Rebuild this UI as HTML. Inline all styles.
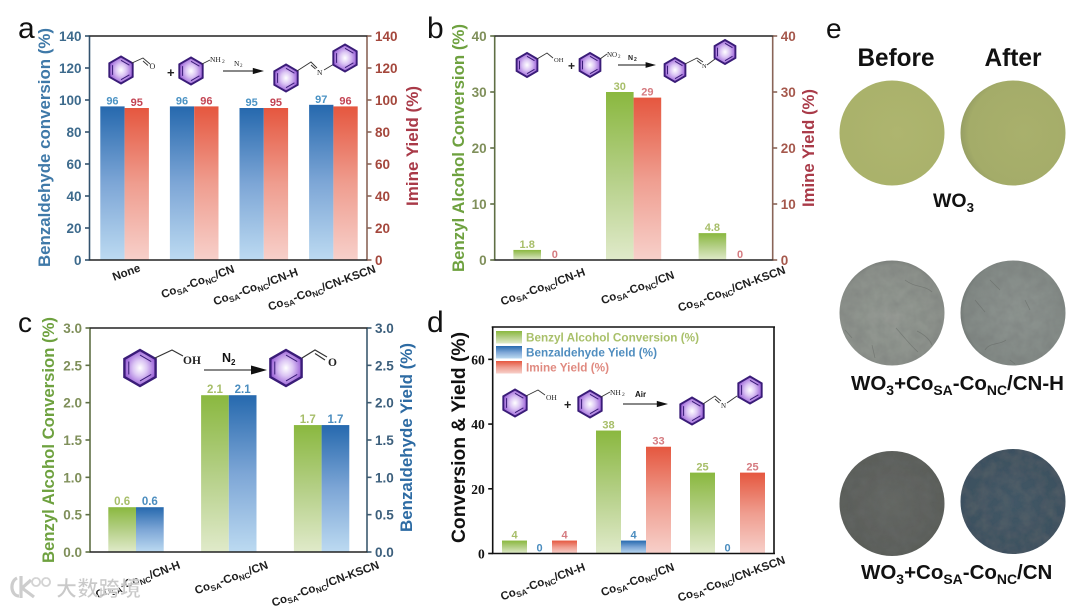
<!DOCTYPE html>
<html lang="en">
<head>
<meta charset="utf-8">
<title>Catalytic performance panels</title>
<style>
html,body{margin:0;padding:0;background:#fff;width:1080px;height:607px;overflow:hidden}
svg{display:block;filter:blur(.35px)}
text{font-family:"Liberation Sans","Noto Sans CJK SC",sans-serif}
</style>
</head>
<body>
<svg id="figure" width="1080" height="607" viewBox="0 0 1080 607" xmlns="http://www.w3.org/2000/svg">
<defs>
<linearGradient id="gBlue" x1="0" y1="0" x2="0" y2="1"><stop offset="0" stop-color="#2669ae"/><stop offset=".5" stop-color="#7da6d6"/><stop offset="1" stop-color="#bcdaf1"/></linearGradient>
<linearGradient id="gRed" x1="0" y1="0" x2="0" y2="1"><stop offset="0" stop-color="#e5573f"/><stop offset=".5" stop-color="#ef9d8f"/><stop offset="1" stop-color="#f7d0ca"/></linearGradient>
<linearGradient id="gGreen" x1="0" y1="0" x2="0" y2="1"><stop offset="0" stop-color="#8ab83f"/><stop offset=".5" stop-color="#b4cf86"/><stop offset="1" stop-color="#e0eaca"/></linearGradient>
<radialGradient id="gRing" cx=".5" cy=".5" r=".55"><stop offset="0" stop-color="#ffffff"/><stop offset=".4" stop-color="#dcc6f4"/><stop offset="1" stop-color="#8f4fd2"/></radialGradient>
<radialGradient id="gW1" cx=".55" cy=".5" r=".6"><stop offset="0" stop-color="#aeb56f"/><stop offset="1" stop-color="#a9b16a"/></radialGradient>
<radialGradient id="gW2" cx=".6" cy=".5" r=".65"><stop offset="0" stop-color="#a9b06c"/><stop offset=".8" stop-color="#a4ac69"/><stop offset="1" stop-color="#8d9560"/></radialGradient>
<radialGradient id="gH1" cx=".5" cy=".55" r=".6"><stop offset="0" stop-color="#959a94"/><stop offset=".85" stop-color="#8b908a"/><stop offset="1" stop-color="#6f736f"/></radialGradient>
<radialGradient id="gH2" cx=".55" cy=".5" r=".6"><stop offset="0" stop-color="#8e9591"/><stop offset=".85" stop-color="#828985"/><stop offset="1" stop-color="#666c69"/></radialGradient>
<radialGradient id="gC1" cx=".5" cy=".5" r=".6"><stop offset="0" stop-color="#646763"/><stop offset="1" stop-color="#585b57"/></radialGradient>
<radialGradient id="gC2" cx=".5" cy=".5" r=".6"><stop offset="0" stop-color="#425766"/><stop offset="1" stop-color="#3c4f5e"/></radialGradient>
<filter id="mottle" x="0" y="0" width="100%" height="100%">
  <feTurbulence type="fractalNoise" baseFrequency=".09" numOctaves="3" seed="4" result="n"/>
  <feColorMatrix in="n" type="matrix" values="0 0 0 0 .15  0 0 0 0 .16  0 0 0 0 .16  0 0 0 .55 -.16" result="m"/>
  <feComposite in="m" in2="SourceGraphic" operator="in" result="c"/>
  <feMerge><feMergeNode in="SourceGraphic"/><feMergeNode in="c"/></feMerge>
</filter>
</defs>
</svg>
<script>
/* ---------- chart data ---------- */
const aCategories = ["None", "CoSA-CoNC/CN", "CoSA-CoNC/CN-H", "CoSA-CoNC/CN-KSCN"];
const aConversion = [96, 96, 95, 97];
const aImine = [95, 96, 95, 96];
const aTickLabels = ["0", "20", "40", "60", "80", "100", "120", "140"];

const bCategories = ["CoSA-CoNC/CN-H", "CoSA-CoNC/CN", "CoSA-CoNC/CN-KSCN"];
const bConversion = [1.8, 30, 4.8];
const bImine = [0, 29, 0];
const bTickLabels = ["0", "10", "20", "30", "40"];

const cCategories = ["CoSA-CoNC/CN-H", "CoSA-CoNC/CN", "CoSA-CoNC/CN-KSCN"];
const cConversion = [0.6, 2.1, 1.7];
const cBenzaldehyde = [0.6, 2.1, 1.7];
const cTickLabels = ["0.0", "0.5", "1.0", "1.5", "2.0", "2.5", "3.0"];

const dCategories = ["CoSA-CoNC/CN-H", "CoSA-CoNC/CN", "CoSA-CoNC/CN-KSCN"];
const dConversion = [4, 38, 25];
const dBenzaldehyde = [0, 4, 0];
const dImine = [4, 33, 25];
const dTickLabels = ["0", "20", "40", "60"];
const dLegendLabels = ["Benzyl Alcohol Conversion (%)", "Benzaldehyde Yield (%)", "Imine Yield (%)"];

/* ---------- helpers ---------- */
const NS = "http://www.w3.org/2000/svg";
const root = document.getElementById("figure");
function add(parent, tag, attrs, txt) {
  const el = document.createElementNS(NS, tag);
  for (const k in attrs) el.setAttribute(k, attrs[k]);
  if (txt !== undefined) el.textContent = txt;
  parent.appendChild(el);
  return el;
}
function label(parent, name, x, y, str, size, fill, extra) {
  const el = add(parent, "text", Object.assign({x: x, y: y, "font-size": size, fill: fill, "font-weight": "bold"}, extra || {}), str);
  
  
  return el;
}
function vTitle(parent, name, x, yBottom, len, str, size, fill) {
  const el = add(parent, "text", {
    transform: "translate(" + x + "," + yBottom + ") rotate(-90)",
    "font-size": size, "font-weight": "bold", fill: fill,
    textLength: len, lengthAdjust: "spacingAndGlyphs"
  }, str);
  
  
  return el;
}
function richCategory(parent, name, xEnd, yEnd, str) {
  const el = add(parent, "text", {
    transform: "translate(" + xEnd + "," + yEnd + ") rotate(-20)",
    "text-anchor": "end", "font-size": 11.5, "font-weight": "bold", fill: "#1d1d1d"
  });
  
  
  let lowered = false;
  str.split(/(SA|NC)/).forEach(function (part) {
    if (!part) return;
    const isSub = part === "SA" || part === "NC";
    const attrs = {};
    if (isSub) { attrs["font-size"] = 8; attrs.dy = 2.5; lowered = true; }
    else if (lowered) { attrs.dy = -2.5; lowered = false; }
    add(el, "tspan", attrs, part);
  });
  return el;
}

/* generic panel: every mark comes from the series arrays through xBand / yScale */
function drawPanel(p) {
  const g = add(root, "g", {});
  
  
  const ticks = p.ticks.map(Number);
  const yMax = p.yMax;
  const yScale = function (v) { return p.y0 - (v / yMax) * (p.y0 - p.y1); };
  const n = p.series.length;
  const xBar = function (ci, si) {
    return p.firstCenter + ci * p.step + (si - n / 2) * p.barW;
  };
  /* bars and value labels */
  p.series.forEach(function (s, si) {
    s.values.forEach(function (v, ci) {
      const x = xBar(ci, si), top = yScale(v);
      if (v > 0) {
        const bar = add(g, "rect", {x: x, y: top, width: p.barW, height: p.y0 - top, fill: "url(#" + s.grad + ")"});
        
        
      }
      const val = label(g, "value-label", x + p.barW / 2, top - 2, String(v), p.valueSize, s.labelFill, {"text-anchor": "middle"});
      val.setAttribute("data-series", s.key);
    });
  });
  /* spines */
  const spine = function (name, x1, y1, x2, y2, col) {
    const l = add(g, "line", {x1: x1, y1: y1, x2: x2, y2: y2, stroke: col, "stroke-width": 1.6});
    
    
  };
  spine("left-axis-line", p.x0, p.y1, p.x0, p.y0, p.leftSpine);
  spine("right-axis-line", p.x1, p.y1, p.x1, p.y0, p.rightSpine);
  spine("top-axis-line", p.x0 - 1, p.y1, p.x1 + 1, p.y1, p.topSpine);
  spine("bottom-axis-line", p.x0 - 1, p.y0, p.x1 + 1, p.y0, p.topSpine);
  /* tick marks and labels */
  ticks.forEach(function (t, i) {
    const y = yScale(t);
    spine("left-tick", p.x0 - 4.5, y, p.x0, y, p.leftSpine);
    label(g, "left-tick-label", p.x0 - 8, y + 5, p.ticks[i], p.tickSize, p.leftTickFill, {"text-anchor": "end", style: "font-family:" + (p.tickFont || '"Liberation Sans",sans-serif')});
    if (p.rightTickFill) {
      spine("right-tick", p.x1, y, p.x1 + 4.5, y, p.rightSpine);
      label(g, "right-tick-label", p.x1 + 8, y + 5, p.ticks[i], p.tickSize, p.rightTickFill, {});
    }
  });
  /* category labels */
  p.categories.forEach(function (c, i) {
    richCategory(g, "x-category-label", p.firstCenter + i * p.step + p.catOffset[i], p.catY[i], c);
  });
  return g;
}

/* molecule parts */
function ring(parent, cx, cy, r) {
  const g = add(parent, "g", {});
  
  
  const pts = [], inner = [];
  for (let i = 0; i < 6; i++) {
    const a = Math.PI / 3 * i - Math.PI / 2;
    pts.push((cx + r * Math.cos(a)).toFixed(1) + "," + (cy + r * Math.sin(a)).toFixed(1));
    inner.push([cx + r * .72 * Math.cos(a), cy + r * .72 * Math.sin(a)]);
  }
  add(g, "polygon", {points: pts.join(" "), fill: "url(#gRing)", stroke: "#3a1c78", "stroke-width": r > 15 ? 2.4 : 1.9});
  [[0, 1], [2, 3], [4, 5]].forEach(function (e) {
    const a = inner[e[0]], b = inner[e[1]];
    add(g, "line", {x1: a[0], y1: a[1], x2: b[0], y2: b[1], stroke: "#3a1c78", "stroke-width": 1});
  });
}
function bond(parent, d, w) {
  const el = add(parent, "polyline", {points: d, fill: "none", stroke: "#333", "stroke-width": w || .9});
  
  
}
function chem(parent, x, y, str, size) {
  const el = add(parent, "text", {x: x, y: y, "font-size": size, fill: "#222", style: 'font-family:"Liberation Serif",serif'}, str);
  
  
  return el;
}
function arrow(parent, x1, x2, y, h) {
  const l = add(parent, "line", {x1: x1, y1: y, x2: x2 - h, y2: y, stroke: "#111", "stroke-width": 1.1});
  
  
  const t = add(parent, "polygon", {points: (x2 - h * 1.6) + "," + (y - h * .45) + " " + x2 + "," + y + " " + (x2 - h * 1.6) + "," + (y + h * .45), fill: "#111"});
  
  
}

/* ---------- panel a ---------- */
const panelA = drawPanel({
  name: "panel-a-chart", x0: 89.5, x1: 367, y0: 260, y1: 36, yMax: 140,
  ticks: aTickLabels, categories: aCategories,
  firstCenter: 124.6, step: 69.6, barW: 24.3, valueSize: 11, tickSize: 13.5,
  series: [
    {key: "conversion", values: aConversion, grad: "gBlue", labelFill: "#4b93c4"},
    {key: "imine", values: aImine, grad: "gRed", labelFill: "#c34453"}
  ],
  leftSpine: "#33536e", rightSpine: "#8a6558", topSpine: "#222",
  leftTickFill: "#3d6a8c", rightTickFill: "#a4473c",
  catOffset: [16.5, 41, 35, 43], catY: [271, 272, 275, 272]
});
vTitle(panelA, "y-axis-title-left", 50, 267, 239, "Benzaldehyde conversion (%)", 17, "#3f79a8");
vTitle(panelA, "y-axis-title-right", 418, 206, 120, "Imine Yield (%)", 17, "#a93a48");
ring(panelA, 121, 70, 13.5);
bond(panelA, "132,63 143,58 150,64");
bond(panelA, "143,61 148,65.5");
chem(panelA, 149.5, 69, "O", 8);
label(panelA, "plus-sign", 167, 77, "+", 13, "#222");
ring(panelA, 191, 71, 13.5);
bond(panelA, "202,64 210,60");
chem(panelA, 210, 62, "NH", 7.5);
chem(panelA, 222, 63, "2", 5.5);
chem(panelA, 234, 66, "N", 7.5);
chem(panelA, 240, 67, "2", 5);
arrow(panelA, 223, 264, 71, 7);
ring(panelA, 286, 78, 13.5);
bond(panelA, "297,71 311,62 317,68");
bond(panelA, "311,65 315.5,69");
chem(panelA, 317, 75, "N", 7.5);
bond(panelA, "324,70 334,64");
ring(panelA, 345, 58, 13.5);

/* ---------- panel b ---------- */
const panelB = drawPanel({
  name: "panel-b-chart", x0: 494.7, x1: 772.7, y0: 260, y1: 36, yMax: 40,
  ticks: bTickLabels, categories: bCategories,
  firstCenter: 541, step: 92.6, barW: 27.6, valueSize: 11, tickSize: 13.5,
  series: [
    {key: "conversion", values: bConversion, grad: "gGreen", labelFill: "#a7be69"},
    {key: "imine", values: bImine, grad: "gRed", labelFill: "#d57b80"}
  ],
  leftSpine: "#5f6f45", rightSpine: "#8a6558", topSpine: "#222",
  leftTickFill: "#7f8f5a", rightTickFill: "#a5584c",
  catOffset: [45, 41.5, 60], catY: [275, 278, 273]
});
vTitle(panelB, "y-axis-title-left", 464, 272, 248, "Benzyl Alcohol Conversion (%)", 17, "#6ea13f");
vTitle(panelB, "y-axis-title-right", 814, 207, 118, "Imine Yield (%)", 17, "#a93a48");
ring(panelB, 527, 65, 12);
bond(panelB, "537,59 547,53 553,58");
chem(panelB, 554, 62, "OH", 6.5);
label(panelB, "plus-sign", 568, 70, "+", 12, "#222");
ring(panelB, 590, 65, 12);
bond(panelB, "600,59 607,54");
chem(panelB, 607, 57, "NO", 7);
chem(panelB, 618, 58, "2", 5);
label(panelB, "n2-label", 628, 60, "N", 7, "#222");
label(panelB, "n2-subscript", 634, 61, "2", 5, "#222");
arrow(panelB, 618, 656, 65, 6.5);
ring(panelB, 675, 70, 12);
bond(panelB, "685,64 697,58 703,62");
bond(panelB, "697,60.5 701.5,64");
chem(panelB, 702, 68, "N", 6.5);
bond(panelB, "707,65 715,59");
ring(panelB, 725, 52, 12);

/* ---------- panel c ---------- */
const panelC = drawPanel({
  name: "panel-c-chart", x0: 90, x1: 367, y0: 552, y1: 328, yMax: 3,
  ticks: cTickLabels, categories: cCategories,
  firstCenter: 136, step: 92.8, barW: 27.7, valueSize: 11.5, tickSize: 13.5,
  series: [
    {key: "conversion", values: cConversion, grad: "gGreen", labelFill: "#a7be69"},
    {key: "benzaldehyde", values: cBenzaldehyde, grad: "gBlue", labelFill: "#4b8dbf"}
  ],
  leftSpine: "#5f6f45", rightSpine: "#3c5a70", topSpine: "#222",
  leftTickFill: "#7f8f5a", rightTickFill: "#3c5f7c",
  catOffset: [45, 40, 58.4], catY: [568, 568, 568]
});
vTitle(panelC, "y-axis-title-left", 54, 563, 246, "Benzyl Alcohol Conversion (%)", 17, "#6ea13f");
vTitle(panelC, "y-axis-title-right", 412, 532, 189, "Benzaldehyde Yield (%)", 17, "#2d6ba3");
ring(panelC, 140, 368, 18);
bond(panelC, "155,358 172,350 183,356", 1.2);
chem(panelC, 183, 364, "OH", 11.5).setAttribute("font-weight", "bold");
label(panelC, "n2-label", 222, 362, "N", 12.5, "#111");
label(panelC, "n2-subscript", 231, 365, "2", 8, "#111");
arrow(panelC, 204, 267, 370, 10);
ring(panelC, 286, 368, 18);
bond(panelC, "302,358 315,350 327,357", 1.2);
bond(panelC, "315,353.5 325,360", 1.2);
chem(panelC, 328, 366, "O", 11.5).setAttribute("font-weight", "bold");

/* ---------- panel d ---------- */
const panelD = drawPanel({
  name: "panel-d-chart", x0: 492.7, x1: 774, y0: 553.5, y1: 327, yMax: 70,
  ticks: dTickLabels, categories: dCategories,
  firstCenter: 539.5, step: 94, barW: 25, valueSize: 11, tickSize: 13.5,
  tickFont: '"Liberation Serif",serif',
  series: [
    {key: "conversion", values: dConversion, grad: "gGreen", labelFill: "#a7be69"},
    {key: "benzaldehyde", values: dBenzaldehyde, grad: "gBlue", labelFill: "#4b8dbf"},
    {key: "imine", values: dImine, grad: "gRed", labelFill: "#d57b80"}
  ],
  leftSpine: "#111", rightSpine: "#111", topSpine: "#111",
  leftTickFill: "#111", rightTickFill: null,
  catOffset: [46.5, 41.5, 58.5], catY: [570, 570, 563]
});
vTitle(panelD, "y-axis-title-left", 465, 543, 211, "Conversion & Yield (%)", 19, "#111");
const dLegendGrads = ["gGreen", "gBlue", "gRed"];
const dLegendFills = ["#a9c06a", "#4f8dbf", "#e08a80"];
const dLegendLens = [173, 131, 83];
dLegendLabels.forEach(function (t, i) {
  const y = 331 + i * 15;
  const sw = add(panelD, "rect", {x: 496, y: y, width: 26, height: 12.5, fill: "url(#" + dLegendGrads[i] + ")"});
  
  
  label(panelD, "legend-entry", 526, y + 10.5, t, 11.5, dLegendFills[i], {textLength: dLegendLens[i], lengthAdjust: "spacingAndGlyphs"});
});
ring(panelD, 515, 403, 13.5);
bond(panelD, "526,396 538,390 545,395");
chem(panelD, 546, 400, "OH", 7.5);
label(panelD, "plus-sign", 564, 409, "+", 12.5, "#222");
ring(panelD, 590, 404, 13.5);
bond(panelD, "601,397 610,392");
chem(panelD, 610, 395, "NH", 7.5);
chem(panelD, 622, 396, "2", 5.5);
label(panelD, "air-label", 635, 397, "Air", 8, "#111");
arrow(panelD, 623, 668, 404, 7);
ring(panelD, 692, 411, 13.5);
bond(panelD, "703,404 715,396 721,401");
bond(panelD, "715,399 719.5,403");
chem(panelD, 721, 408, "N", 7);
bond(panelD, "727,403 737,396");
ring(panelD, 750, 390, 13.5);

/* ---------- panel letters ---------- */
[["a", 18, 38, 30], ["b", 427, 38, 30], ["c", 18, 332, 28], ["d", 427, 332, 30], ["e", 826, 38, 28]].forEach(function (l) {
  const el = add(root, "text", {x: l[1], y: l[2], "font-size": l[3], fill: "#111"}, l[0]);
  
  
});

/* ---------- panel e: photos ---------- */
const panelE = add(root, "g", {});


[[892, 133, "gW1", 0], [1013, 133, "gW2", 0], [892, 313, "gH1", 1], [1013, 313, "gH2", 1], [892, 503.5, "gC1", 1], [1013, 501.5, "gC2", 1]].forEach(function (c) {
  const d = add(panelE, "circle", {cx: c[0], cy: c[1], r: 52.5, fill: "url(#" + c[2] + ")"});
  if (c[3]) d.setAttribute("filter", "url(#mottle)");
  
  
});
["M905 280 C915 288 925 285 932 292 M896 328 C905 338 910 345 918 352 M917 331 C925 335 930 340 932 345 M872 345 L875 358 M845 330 L852 338",
 "M985 350 C990 342 1000 345 1006 340 M990 280 L1000 290 M1025 300 L1030 310 M1010 360 L1015 364 M975 300 L985 312",
 "M890 452 L895 460 M880 548 C895 556 905 552 915 550"].forEach(function (d) {
  const crack = add(panelE, "path", {d: d, fill: "none", stroke: "#5d615d", "stroke-width": .7, opacity: .5});
  
  
});
label(panelE, "before-header", 896, 66, "Before", 25, "#111", {"text-anchor": "middle", textLength: 77, lengthAdjust: "spacingAndGlyphs"});
label(panelE, "after-header", 1013, 66, "After", 25, "#111", {"text-anchor": "middle", textLength: 57, lengthAdjust: "spacingAndGlyphs"});
function sampleLabel(name, x, y, size, parts) {
  const el = add(panelE, "text", {x: x, y: y, "font-size": size, "font-weight": "bold", fill: "#111"});
  
  
  let low = false;
  parts.split(/(\[.*?\])/).forEach(function (part) {
    if (!part) return;
    if (part[0] === "[") {
      add(el, "tspan", {"font-size": size * .68, dy: 5}, part.slice(1, -1));
      low = true;
    } else {
      add(el, "tspan", low ? {dy: -5} : {}, part);
      low = false;
    }
  });
}
sampleLabel("sample-label-wo3", 933, 207, 19.5, "WO[3]");
sampleLabel("sample-label-cn-h", 851, 390, 20.5, "WO[3]+Co[SA]-Co[NC]/CN-H");
sampleLabel("sample-label-cn", 861, 579, 20.5, "WO[3]+Co[SA]-Co[NC]/CN");

/* ---------- watermark ---------- */
const wm = add(root, "g", {opacity: .9});


const wmIcon = add(wm, "path", {d: "M17 578 C9 582 11 596 19 596 M21 576 L21 598 M31 580 L22 588 L34 597", fill: "none", stroke: "#c8c8c8", "stroke-width": 3.2});


const wmDots = add(wm, "path", {d: "M36 578 a4 4 0 1 0 .1 0 M46 578 a4 4 0 1 0 .1 0", fill: "none", stroke: "#cfcfcf", "stroke-width": 1.8});


const wmText = add(wm, "text", {x: 56, y: 596, "font-size": 21, "font-weight": "bold", fill: "#c4c4c4", stroke: "#ffffff", "stroke-width": .6, textLength: 85, style: 'font-family:"Noto Sans CJK SC",sans-serif'}, "大数跨境");


</script>
</body>
</html>
